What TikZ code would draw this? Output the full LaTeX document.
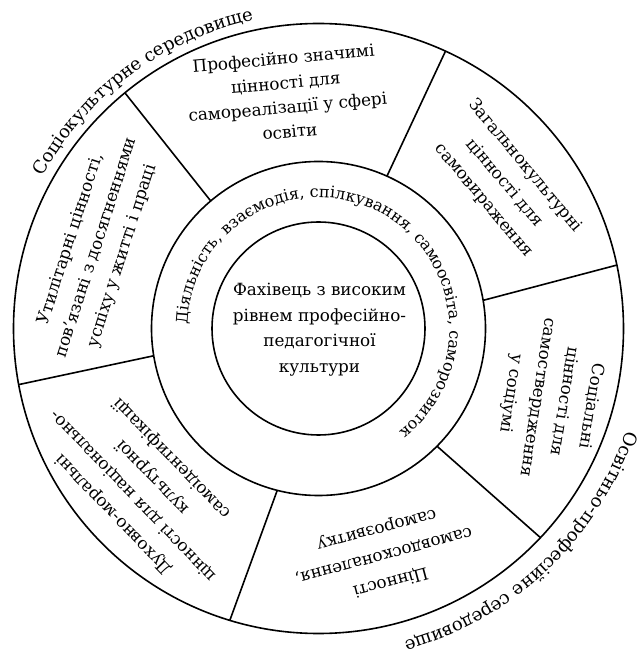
\documentclass[tikz,border=0pt]{standalone}
\usepackage{fontspec}
\setmainfont{DejaVu Serif}
\usetikzlibrary{decorations.text}
\begin{document}
\begin{tikzpicture}[x=1pt,y=1pt,
  ring/.style={line width=1.6pt},
  sectortext/.style={align=center, font=\fontsize{16.8}{27}\selectfont, inner sep=0pt},
  ringtext/.style={decorate, decoration={text along path, text align=center, text={#1}}}
]
\useasboundingbox (0,0) rectangle (638,654);
\coordinate (c) at (318.5,325.5);
% circles
\draw[ring] (c) circle[radius=305];
\draw[ring] (c) circle[radius=167];
\draw[ring] (c) circle[radius=106.5];
% spoke end points
\coordinate (s1i) at ([shift={(130.2:167)}]c);
\coordinate (s1o) at ([shift={(129.4:305)}]c);
\coordinate (s2i) at ([shift={(65.8:167)}]c);
\coordinate (s2o) at ([shift={(65.4:305)}]c);
\coordinate (s3i) at ([shift={(9.7:167)}]c);
\coordinate (s3o) at ([shift={(12:305)}]c);
\coordinate (s4i) at ([shift={(-44.8:167)}]c);
\coordinate (s4o) at ([shift={(-43.3:305)}]c);
\coordinate (s5i) at ([shift={(255.7:167)}]c);
\coordinate (s5o) at ([shift={(253.1:305)}]c);
\coordinate (s6i) at ([shift={(189.4:167)}]c);
\coordinate (s6o) at ([shift={(190.6:305)}]c);
\draw[ring] (s1i) -- (s1o);
\draw[ring] (s2i) -- (s2o);
\draw[ring] (s3i) -- (s3o);
\draw[ring] (s4i) -- (s4o);
\draw[ring] (s5i) -- (s5o);
\draw[ring] (s6i) -- (s6o);
% centre text
\node[sectortext, font=\fontsize{16.8}{25.5}\selectfont] (core) at ([shift={(1,-1)}]c) {Фахівець з високим\\рівнем професійно-\\педагогічної\\культури};
% sector texts
\node[sectortext, font=\fontsize{16.8}{24.5}\selectfont, rotate=5] (v1) at ([shift={(97.75:236)}]c) {Професійно значимі\\цінності для\\самореалізації у сфері\\освіти};
\node[sectortext, rotate=-50] (v2) at ([shift={(38:236)}]c) {Загальнокультурні\\цінності для\\самовираження};
\node[sectortext, rotate=-99] (v3) at ([shift={(-17:243)}]c) {Соціальні\\цінності для\\самоствердження\\у соціумі};
\node[sectortext, rotate=-165] (v4) at ([shift={(-74:236)}]c) {Цінності\\самовдосконалення,\\саморозвитку};
\node[sectortext, rotate=134] (v5) at ([shift={(222:236)}]c) {Духовно-моральні\\цінності для національно-\\культурної\\самоідентифікації};
\node[sectortext, rotate=72] (v6) at ([shift={(160:236)}]c) {Утилітарні цінності,\\пов’язані з досягненнями\\успіху у житті і праці};
% ring text
\path[ringtext={|\fontsize{16}{16}\selectfont|Діяльність, взаємодія, спілкування, самоосвіта, саморозвиток}]
  ([shift={(213:131)}]c) arc[start angle=213, end angle=-87, radius=131];
% outer labels
\path[ringtext={|\fontsize{18}{18}\selectfont|Соціокультурне середовище}]
  ([shift={(216.5:315)}]c) arc[start angle=216.5, end angle=36.5, radius=315];
\path[ringtext={|\fontsize{18}{18}\selectfont|Освітньо-професійне середовище}]
  ([shift={(43.5:324)}]c) arc[start angle=43.5, end angle=-136.5, radius=324];
\end{tikzpicture}
\end{document}
